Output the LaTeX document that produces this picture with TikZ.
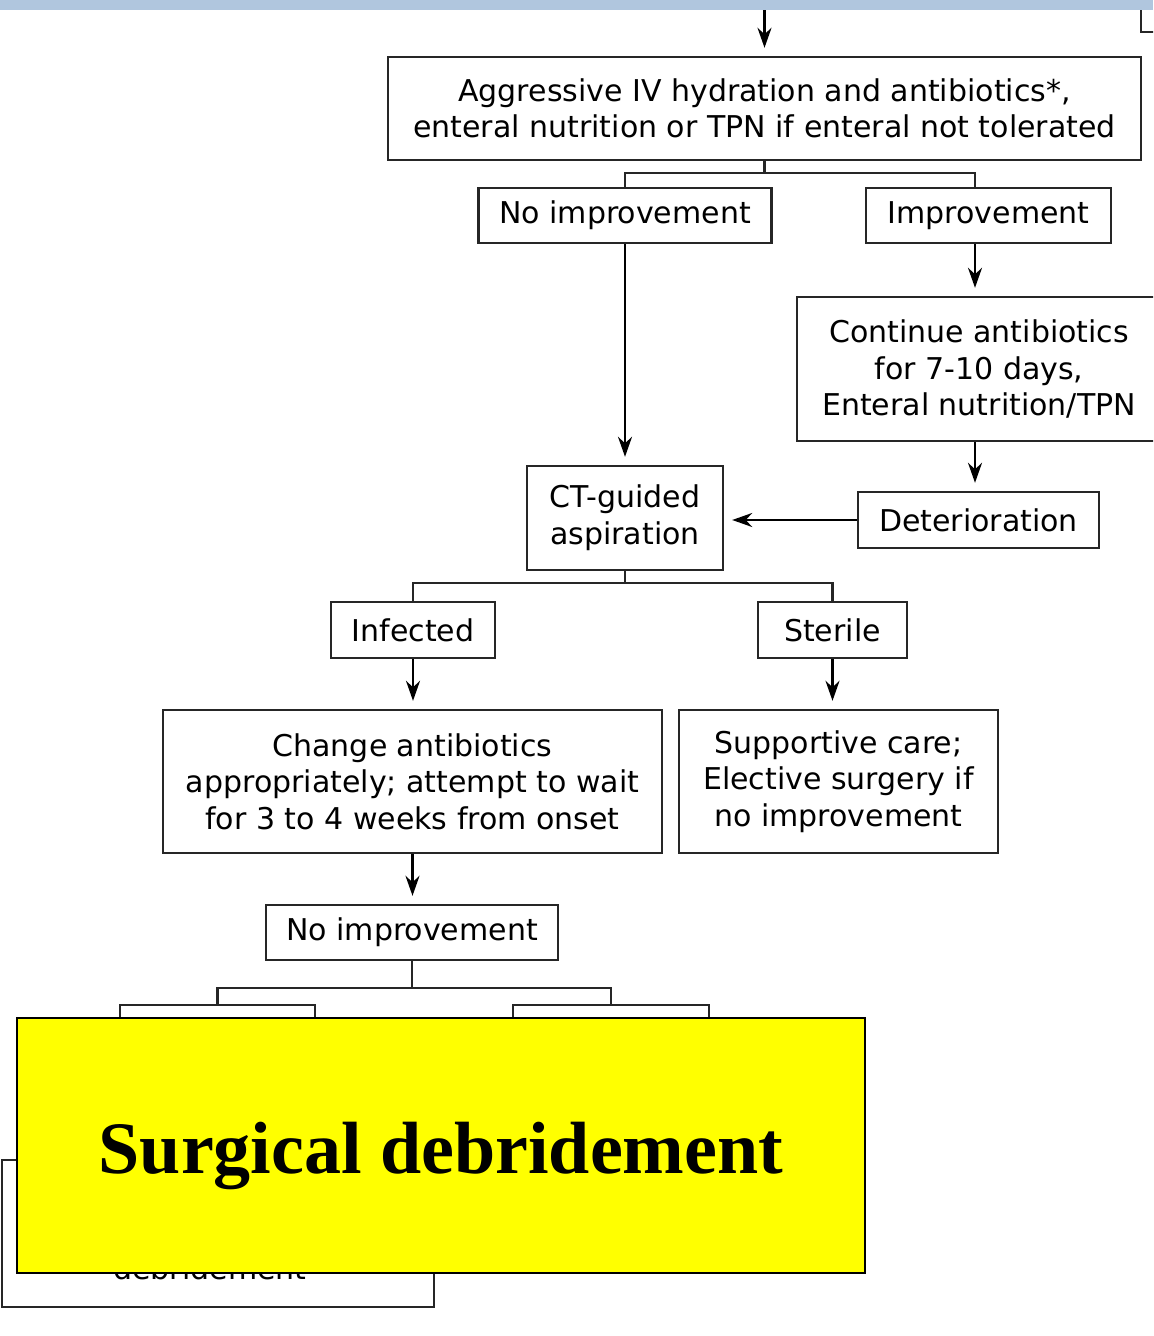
\documentclass[tikz,border=0pt]{standalone}
\usepackage{fontspec}
\setmainfont{DejaVu Sans}
\newfontfamily\timesbold{Liberation Serif}
\usetikzlibrary{arrows.meta, positioning, calc}
\definecolor{bandblue}{RGB}{176,198,222}
\definecolor{hiyellow}{RGB}{255,255,0}

\begin{document}
\begin{tikzpicture}[x=0.5pt, y=-0.5pt,
  box/.style={draw=black!85, line width=1.2pt, fill=white, inner sep=0pt, align=center,
    font=\fontsize{15}{18.3}\selectfont},
  arr/.style={-{Stealth[length=10pt,width=7pt]}, line width=1.2pt, shorten >=4pt},
  link/.style={line width=1.2pt, draw=black!85}]
\clip (0,0) rectangle (1153,1336);
\fill[white] (0,0) rectangle (1153,1336);
% top row
\node[box, minimum width=376.5pt, minimum height=51.5pt] (hydr) at (764.5,108.5)
  {Aggressive IV hydration and antibiotics*,\\enteral nutrition or TPN if enteral not tolerated};
\coordinate (topin) at (764.5,0);
\draw[arr] (topin) -- (hydr.north);
\draw[link] (1141,0) -- (1141,32) -- (1160,32);
\fill[bandblue] (0,0) rectangle (1153,10);
% first split
\node[box, minimum width=146.5pt, minimum height=27.5pt] (noimp_a) at (625,215.5) {No improvement};
\node[box, minimum width=122.5pt, minimum height=27.5pt] (imp) at (988.5,215.5) {Improvement};
\node[box, minimum width=182pt, minimum height=72pt] (cont) at (979,369)
  {Continue antibiotics\\for 7-10 days,\\Enteral nutrition/TPN};
\node[box, minimum width=120.5pt, minimum height=28pt] (deter) at (978.5,520) {Deterioration};
\node[box, minimum width=98pt, minimum height=52pt] (ct) at (625,518) {CT-guided\\aspiration};
\coordinate (rcol) at (975,0);
\draw[link] (hydr.south) -- ++(0,12) -| (noimp_a.north);
\draw[link] (hydr.south) ++(0,12) -| (imp.north -| rcol);
\draw[arr] (imp.south -| rcol) -- (cont.north -| rcol);
\draw[arr] (cont.south -| rcol) -- (deter.north -| rcol);
\draw[arr] (noimp_a.south) -- (ct.north);
\draw[arr] (deter.west) -- (deter.west -| ct.east);
% second split
\node[box, minimum width=82pt, minimum height=28pt] (infect) at (413,630) {Infected};
\node[box, minimum width=74.5pt, minimum height=28pt] (steril) at (832.5,630) {Sterile};
\node[box, minimum width=249.5pt, minimum height=71.5pt] (change) at (412.5,781.5)
  {Change antibiotics\\appropriately; attempt to wait\\for 3 to 4 weeks from onset};
\node[box, minimum width=159.5pt, minimum height=71.5pt] (support) at (838.5,781.5)
  {Supportive care;\\Elective surgery if\\no improvement};
\draw[link] (ct.south) -- ++(0,12) -| (infect.north);
\draw[link] (ct.south) ++(0,12) -| (steril.north);
\draw[arr] (infect.south) -- (infect.south |- change.north);
\draw[arr] (steril.south) -- (steril.south |- support.north);
% third split
\node[box, minimum width=146pt, minimum height=27.5pt] (noimp_b) at (412,932.5) {No improvement};
\draw[arr] (change.south) -- (change.south |- noimp_b.north);
\node[box, minimum width=97.5pt, minimum height=47.5pt] (opt_l) at (217.5,1052.5) {};
\node[box, minimum width=98pt, minimum height=47.5pt] (opt_r) at (611,1052.5) {};
\draw[link] (noimp_b.south) -- ++(0,27) -| (opt_l.north);
\draw[link] (noimp_b.south) ++(0,27) -| (opt_r.north);
\node[box, minimum width=216pt, minimum height=73.5pt] (surg) at (218,1233.5) {};
\node[font=\fontsize{15}{18}\selectfont, inner sep=0pt] (surg_txt) at (210,1268) {debridement};
% overlay
\node[draw=black, line width=1.2pt, fill=hiyellow, inner sep=0pt,
  minimum width=424pt, minimum height=127.5pt,
  font=\timesbold\bfseries\fontsize{37}{40}\selectfont] (label) at (441,1145.5)
  {\raisebox{-13.75pt}[0pt][0pt]{Surgical debridement}};
\end{tikzpicture}
\end{document}
